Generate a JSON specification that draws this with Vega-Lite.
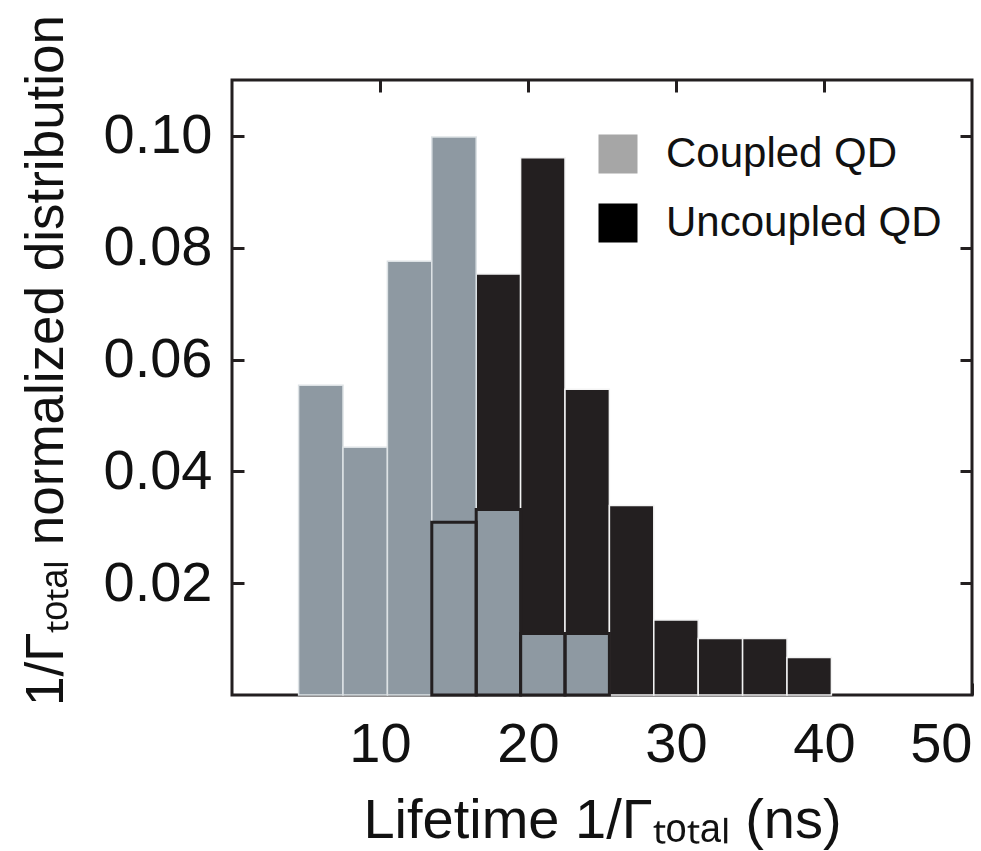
{
  "$schema": "https://vega.github.io/schema/vega-lite/v6.json",
  "width": 740,
  "height": 615,
  "autosize": {"type": "none"},
  "padding": {"left": 232, "top": 80, "right": 9, "bottom": 156},
  "background": "white",
  "config": {
    "font": "Liberation Sans",
    "view": {"stroke": "#231f20", "strokeWidth": 3},
    "axis": {
      "domain": false,
      "grid": false,
      "tickColor": "#231f20",
      "tickWidth": 3,
      "tickSize": -12,
      "labelColor": "#111111",
      "titleColor": "#111111",
      "labelFont": "Liberation Sans",
      "labelFontSize": 56,
      "titleFont": "Liberation Sans",
      "titleFontSize": 54,
      "titleFontWeight": "normal"
    },
    "legend": {
      "symbolType": "square",
      "symbolSize": 1521,
      "symbolStrokeWidth": 0,
      "symbolOpacity": 1,
      "labelFont": "Liberation Sans",
      "labelFontSize": 42,
      "labelColor": "#111111",
      "labelOffset": 27,
      "labelLimit": 0,
      "rowPadding": 27,
      "padding": 0
    }
  },
  "data": {
    "values": [
      {"group": "Coupled QD", "start": 4.5, "end": 7.5, "density": 0.0554},
      {"group": "Coupled QD", "start": 7.5, "end": 10.5, "density": 0.0443},
      {"group": "Coupled QD", "start": 10.5, "end": 13.5, "density": 0.0776},
      {"group": "Coupled QD", "start": 13.5, "end": 16.5, "density": 0.0998},
      {"group": "Coupled QD", "start": 16.5, "end": 19.5, "density": 0.0332},
      {"group": "Coupled QD", "start": 19.5, "end": 22.5, "density": 0.011},
      {"group": "Coupled QD", "start": 22.5, "end": 25.5, "density": 0.011},
      {"group": "Uncoupled QD", "start": 13.5, "end": 16.5, "density": 0.0309},
      {"group": "Uncoupled QD", "start": 16.5, "end": 19.5, "density": 0.0753},
      {"group": "Uncoupled QD", "start": 19.5, "end": 22.5, "density": 0.0961},
      {"group": "Uncoupled QD", "start": 22.5, "end": 25.5, "density": 0.0547},
      {"group": "Uncoupled QD", "start": 25.5, "end": 28.5, "density": 0.0339},
      {"group": "Uncoupled QD", "start": 28.5, "end": 31.5, "density": 0.0134},
      {"group": "Uncoupled QD", "start": 31.5, "end": 34.5, "density": 0.0101},
      {"group": "Uncoupled QD", "start": 34.5, "end": 37.5, "density": 0.0101},
      {"group": "Uncoupled QD", "start": 37.5, "end": 40.5, "density": 0.0067}
    ]
  },
  "layer": [
    {
      "encoding": {
        "x": {
          "field": "start",
          "type": "quantitative",
          "scale": {"domain": [0, 50], "nice": false, "zero": false},
          "axis": {
            "orient": "bottom",
            "values": [10, 20, 30, 40, 50],
            "format": "d",
            "labelFlush": true,
            "labelPadding": 34,
            "title": "Lifetime 1/Γₜₒₜₐₗ (ns)",
            "titleBaseline": "alphabetic",
            "titleY": 142,
            "titleFontSize": 56
          }
        },
        "x2": {"field": "end"},
        "y": {
          "field": "density",
          "type": "quantitative",
          "scale": {"domain": [0, 0.11], "nice": false},
          "axis": {
            "orient": "left",
            "values": [0.02, 0.04, 0.06, 0.08, 0.1],
            "format": ".2f",
            "labelPadding": 32,
            "title": "1/Γₜₒₜₐₗ normalized distribution",
            "titleAngle": -90,
            "titleBaseline": "alphabetic",
            "titleAlign": "center",
            "titleX": -170,
            "titleY": 280,
            "titleFontSize": 53
          }
        },
        "y2": {"datum": 0}
      },
      "layer": [
        {
          "transform": [{"filter": "datum.group === 'Uncoupled QD'"}],
          "mark": {"type": "bar", "fill": "#231f20", "stroke": "#f4f4f4", "strokeWidth": 1.5}
        },
        {
          "transform": [{"filter": "datum.group === 'Coupled QD'"}],
          "mark": {"type": "bar", "fill": "#8e99a2", "stroke": "#dde2e5", "strokeWidth": 1.5}
        },
        {
          "transform": [{"filter": "(datum.group === 'Uncoupled QD' && datum.start === 13.5) || (datum.group === 'Coupled QD' && datum.start >= 16.5)"}],
          "mark": {"type": "bar", "fill": "transparent", "stroke": "#231f20", "strokeWidth": 3}
        },
        {
          "transform": [{"filter": "datum.start > 1000"}],
          "mark": {"type": "square", "opacity": 1, "filled": true},
          "encoding": {
            "y2": null,
            "x2": null,
            "color": {
              "field": "group",
              "type": "nominal",
              "scale": {"domain": ["Coupled QD", "Uncoupled QD"], "range": ["#a6a6a6", "#000000"]},
              "legend": {
                "title": null,
                "orient": "none",
                "legendX": 365,
                "legendY": 53,
                "symbolOpacity": 1
              }
            }
          }
        }
      ]
    },
    {
      "mark": {"type": "point", "opacity": 0},
      "encoding": {
        "x": {
          "field": "start",
          "type": "quantitative",
          "scale": {"domain": [0, 50], "nice": false, "zero": false},
          "axis": {"orient": "top", "values": [10, 20, 30, 40], "labels": false, "title": null}
        },
        "y": {
          "field": "density",
          "type": "quantitative",
          "scale": {"domain": [0, 0.11], "nice": false},
          "axis": {"orient": "right", "values": [0.02, 0.04, 0.06, 0.08, 0.1], "labels": false, "title": null}
        }
      }
    }
  ],
  "resolve": {"axis": {"x": "independent", "y": "independent"}}
}
